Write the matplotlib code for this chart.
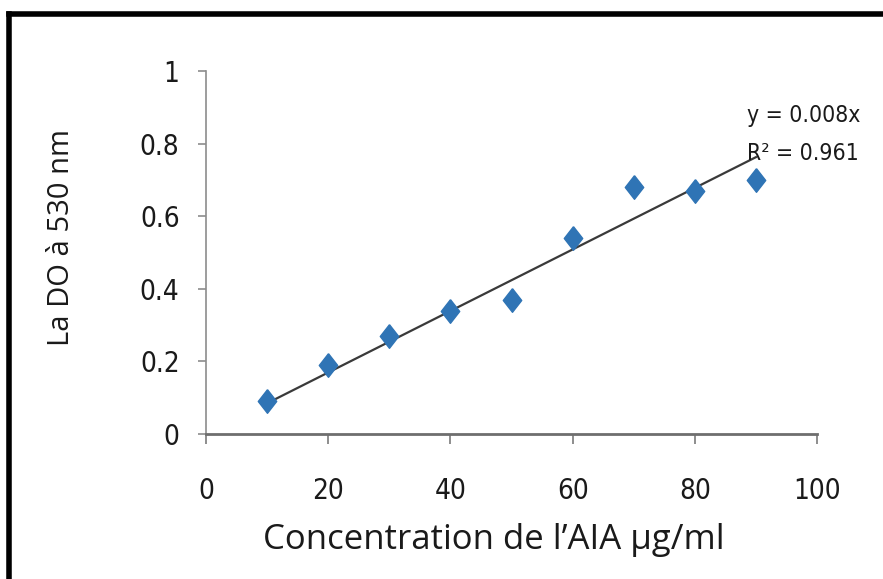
import numpy as np
from matplotlib import pyplot as plt
from matplotlib.lines import Line2D

# Concentration of AIA (ug/ml) vs optical density at 530 nm
concentration = [10, 20, 30, 40, 50, 60, 70, 80, 90]
absorbance = [0.09, 0.19, 0.27, 0.34, 0.37, 0.54, 0.68, 0.67, 0.70]
x_ticks = [0, 20, 40, 60, 80, 100]
y_ticks = [0, 0.2, 0.4, 0.6, 0.8, 1]
y_tick_labels = ['0', '0.2', '0.4', '0.6', '0.8', '1']
equation_text = 'y = 0.008x'
r2_text = 'R² = 0.961'

label_font = ['Open Sans', 'DejaVu Sans']

x = np.array(concentration, dtype=float)
y = np.array(absorbance)
# linear trend forced through the origin (as in the Excel chart)
slope = np.sum(x * y) / np.sum(x * x)

diamond = [(0, 1), (0.78, 0), (0, -1), (-0.78, 0), (0, 1)]

fig = plt.figure(figsize=(8.83, 5.79), dpi=100)
ax = fig.add_axes([0.2333, 0.2504, 0.6920, 0.6270])

ax.plot(x, slope * x, color='#3a3a3a', linewidth=1.6, zorder=2)
ax.plot(x, y, linestyle='none', marker=diamond, markersize=17,
        color='#2f74b5', markeredgecolor='#2f74b5', zorder=3)

ax.set_xlim(0, 100)
ax.set_ylim(0, 1)
ax.set_xticks(x_ticks)
ax.set_yticks(y_ticks)
ax.set_yticklabels(y_tick_labels)

for side in ['top', 'right']:
    ax.spines[side].set_visible(False)
ax.spines['left'].set_color('#8c8c8c')
ax.spines['left'].set_linewidth(1.2)
ax.spines['bottom'].set_color('#6e6e6e')
ax.spines['bottom'].set_linewidth(2)

ax.tick_params(axis='x', direction='out', length=7, width=1.2,
               color='#7a7a7a', pad=24)
ax.tick_params(axis='y', direction='out', length=6, width=1.2,
               color='#8c8c8c', pad=13)
for lab in ax.get_xticklabels() + ax.get_yticklabels():
    lab.set_family('DejaVu Sans')
    lab.set_stretch('condensed')
    lab.set_fontsize(20)
    lab.set_color('#1a1a1a')

ax.set_xlabel('Concentration de l\u2019AIA \u00b5g/ml', family=label_font,
              fontsize=25, color='#1a1a1a')
ax.set_ylabel('La DO \u00e0 530 nm', family=label_font, fontsize=21,
              color='#1a1a1a')
ax.xaxis.set_label_coords(0.471, -0.245)
ax.yaxis.set_label_coords(-0.213, 0.54)

fig.text(0.846, 0.800, equation_text, family='DejaVu Sans',
         stretch='condensed', fontsize=16.5, color='#1a1a1a',
         ha='left', va='center')
fig.text(0.846, 0.735, r2_text, family='DejaVu Sans',
         stretch='condensed', fontsize=16.5, color='#1a1a1a',
         ha='left', va='center')

# black frame on the top and left edges of the picture
fig.add_artist(Line2D([0.010, 1.0], [0.976, 0.976], transform=fig.transFigure,
                      color='black', linewidth=4))
fig.add_artist(Line2D([0.010, 0.010], [0.0, 0.976], transform=fig.transFigure,
                      color='black', linewidth=4))

fig.savefig('out.png', dpi=100)
